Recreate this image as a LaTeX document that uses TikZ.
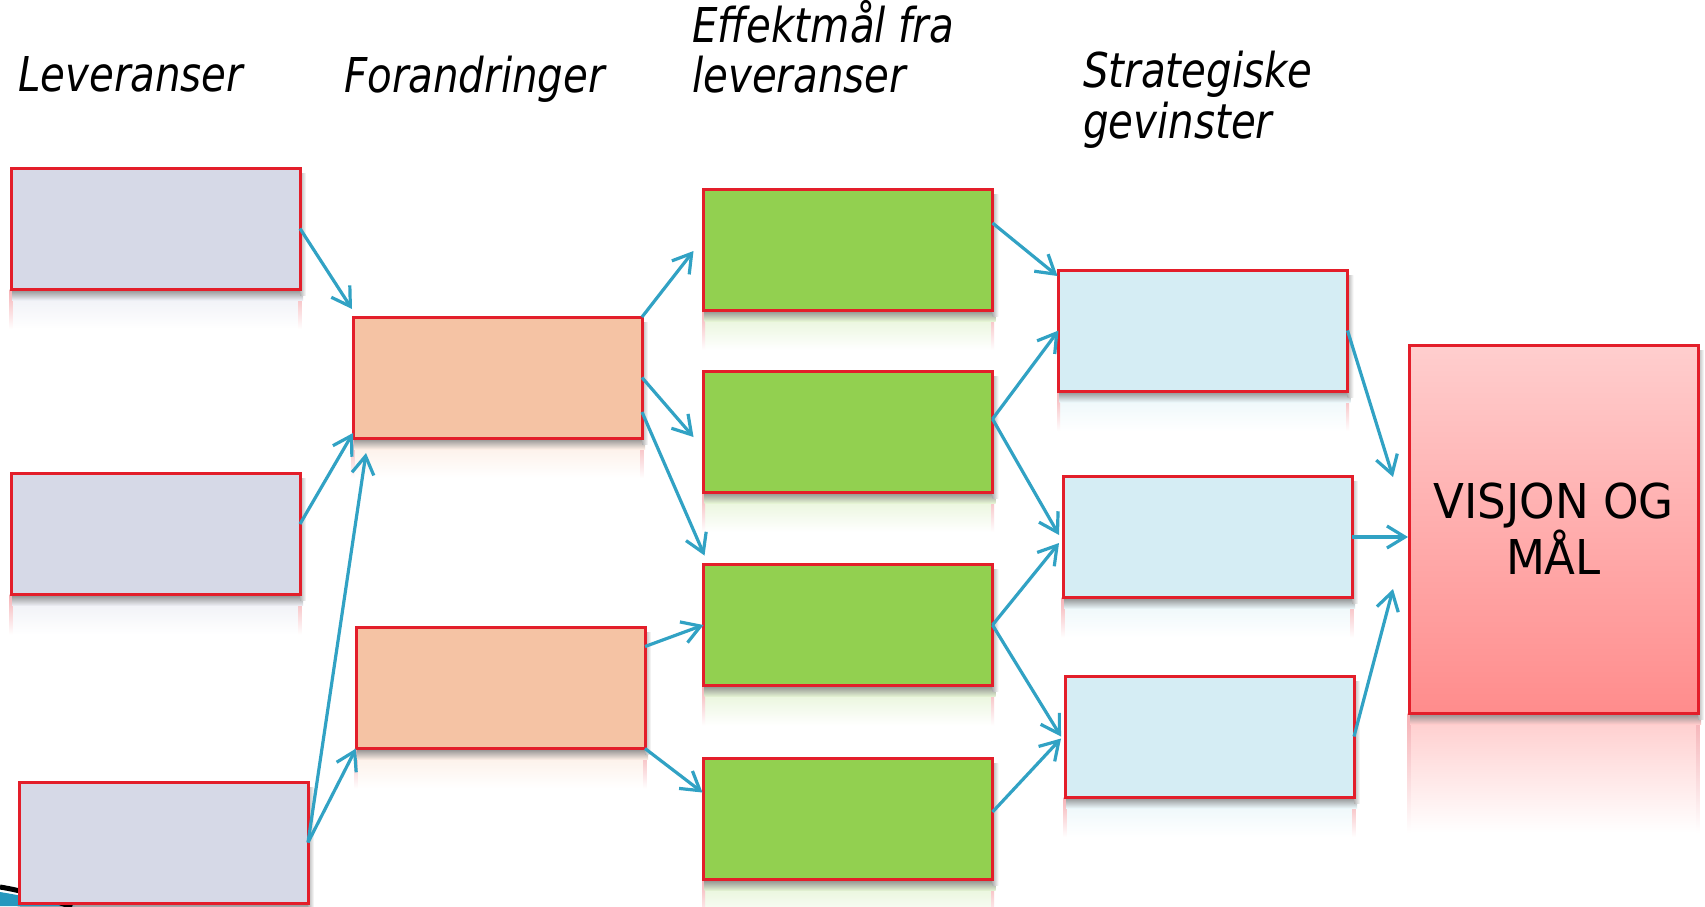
\documentclass[tikz,border=0pt]{standalone}
\usepackage{fontspec}
\setmainfont{DejaVu Sans}
\newfontfamily\headfont{DejaVu Sans}[FakeStretch=0.84]
\newfontfamily\goalfont{DejaVu Sans}[FakeStretch=0.94]
\usetikzlibrary{arrows.meta,calc}

\definecolor{boxred}{RGB}{227,30,42}
\definecolor{linkblue}{RGB}{49,162,196}
\definecolor{lav}{RGB}{214,217,231}
\definecolor{peach}{RGB}{245,195,164}
\definecolor{leaf}{RGB}{146,208,80}
\definecolor{sky}{RGB}{213,237,244}
\definecolor{goaltop}{RGB}{255,206,206}
\definecolor{goalbot}{RGB}{255,140,140}
\definecolor{decoteal}{RGB}{38,152,190}

\pgfdeclarelayer{paper}
\pgfdeclarelayer{bg}
\pgfsetlayers{paper,bg,main}

\tikzset{
  box/.style={draw=boxred, line width=3pt, minimum width=289pt, minimum height=121pt,
    inner sep=0pt, outer sep=0pt},
  link/.style={draw=linkblue, line width=3.2pt, -{Straight Barb[length=18pt,width=22pt]}},
  head/.style={font=\headfont\itshape\fontsize{48}{50}\selectfont, anchor=base west, inner sep=0pt},
}

% soft shadow and faded mirror image under a box: node, colour, depth
\newcommand\mirrorbox[3]{%
  \shade[top color=#2, bottom color=white] let \p1=(#1.south west), \p2=(#1.south east) in
    (\x1,\y1) rectangle (\x2,\y1-#3pt);
  \shade[top color=boxred!35!white, bottom color=white] let \p1=(#1.south west) in
    (\x1-1.5pt,\y1) rectangle (\x1+1.5pt,\y1-#3pt);
  \shade[top color=boxred!35!white, bottom color=white] let \p2=(#1.south east) in
    (\x2-1.5pt,\y2) rectangle (\x2+1.5pt,\y2-#3pt);
  \shade[top color=black!45!white, bottom color=#2] let \p1=(#1.south west), \p2=(#1.south east) in
    (\x1+1pt,\y1) rectangle (\x2+3pt,\y1-11pt);
  \shade[left color=black!30!white, right color=white] let \p1=(#1.north east), \p2=(#1.south east) in
    (\x1,\y1-5pt) rectangle (\x1+6pt,\y2-6pt);
}

\begin{document}
\begin{tikzpicture}[x=1pt, y=-1pt]
\useasboundingbox (0,0) rectangle (1705,906);
\begin{pgfonlayer}{paper}
  \fill[white] (0,0) rectangle (1705,906);
\end{pgfonlayer}

% corner ornament
\fill[decoteal] (0,892) .. controls (25,896) and (50,902) .. (75,906) -- (0,906) -- cycle;
\draw[line width=5pt, black] (0,887) .. controls (25,891) and (50,899) .. (72,907);

% column headings
\node[head] (hL) at (18,91) {Leveranser};
\node[head] (hF) at (344,92) {Forandringer};
\node[head] (hE1) at (692,42) {Effektmål fra};
\node[head] (hE2) at (692,92) {leveranser};
\node[head] (hS1) at (1083,87) {Strategiske};
\node[head] (hS2) at (1083,138) {gevinster};

% deliveries
\node[box, fill=lav] (L1) at (155.5,228.5) {};
\node[box, fill=lav] (L2) at (155.5,534) {};
\node[box, fill=lav] (L3) at (163.5,842.5) {};
% changes
\node[box, fill=peach] (F1) at (497.5,377.5) {};
\node[box, fill=peach] (F2) at (500.5,688) {};
% effect goals
\node[box, fill=leaf] (G1) at (848,249.5) {};
\node[box, fill=leaf] (G2) at (848,431.5) {};
\node[box, fill=leaf] (G3) at (848,625) {};
\node[box, fill=leaf] (G4) at (848,819) {};
% strategic benefits
\node[box, fill=sky] (S1) at (1203,330.5) {};
\node[box, fill=sky] (S2) at (1207.5,537) {};
\node[box, fill=sky] (S3) at (1209.5,736.5) {};
% vision
\node[box, minimum height=368pt, top color=goaltop, bottom color=goalbot,
      font=\goalfont\fontsize{48}{56}\selectfont, align=center] (V) at (1553.5,529) {VISJON OG\\MÅL};

\begin{pgfonlayer}{bg}
  \mirrorbox{L1}{lav!45!white}{40}
  \mirrorbox{L2}{lav!45!white}{40}
  \mirrorbox{L3}{lav!45!white}{40}
  \mirrorbox{F1}{peach!30!white}{40}
  \mirrorbox{F2}{peach!30!white}{40}
  \mirrorbox{G1}{leaf!25!white}{40}
  \mirrorbox{G2}{leaf!25!white}{40}
  \mirrorbox{G3}{leaf!25!white}{40}
  \mirrorbox{G4}{leaf!25!white}{40}
  \mirrorbox{S1}{sky!50!white}{40}
  \mirrorbox{S2}{sky!50!white}{40}
  \mirrorbox{S3}{sky!50!white}{40}
  \mirrorbox{V}{goalbot!45!white}{120}
\end{pgfonlayer}

% connectors
\draw[link] (L1.east) -- ($(F1.north west)+(-1,-8)$);
\draw[link] ($(L2.east)+(0,-10)$) -- ($(F1.south west)+(0,-5)$);
\draw[link] (L3.east) -- ($(F1.south west)+(13,15)$);
\draw[link] (L3.east) -- (F2.south west);
\draw[link] (F1.north east) -- ($(G1.west)+(-10,1.5)$);
\draw[link] (F1.east) -- ($(G2.west)+(-10,5.5)$);
\draw[link] ($(F1.east)+(0,34.5)$) -- ($(G3.north west)+(1,-9)$);
\draw[link] ($(F2.north east)+(0,19)$) -- (G3.west);
\draw[link] (F2.south east) -- ($(G4.north west)+(-1,34)$);
\draw[link] ($(G1.east)+(0,-26.5)$) -- ($(S1.north west)+(-1,6)$);
\draw[link] ($(G2.east)+(0,-12.5)$) -- (S1.west);
\draw[link] ($(G2.east)+(0,-12.5)$) -- ($(S2.west)+(-4,-2)$);
\draw[link] (G3.east) -- ($(S2.west)+(-4,6)$);
\draw[link] (G3.east) -- ($(S3.west)+(-4,0)$);
\draw[link] ($(G4.east)+(0,-7)$) -- ($(S3.west)+(-4,2)$);
\draw[link] (S1.east) -- ($(V.west)+(-16,-52)$);
\draw[link] (S2.east) -- ($(V.west)+(-1,8)$);
\draw[link] (S3.east) -- ($(V.west)+(-16,60)$);
\end{tikzpicture}
\end{document}
